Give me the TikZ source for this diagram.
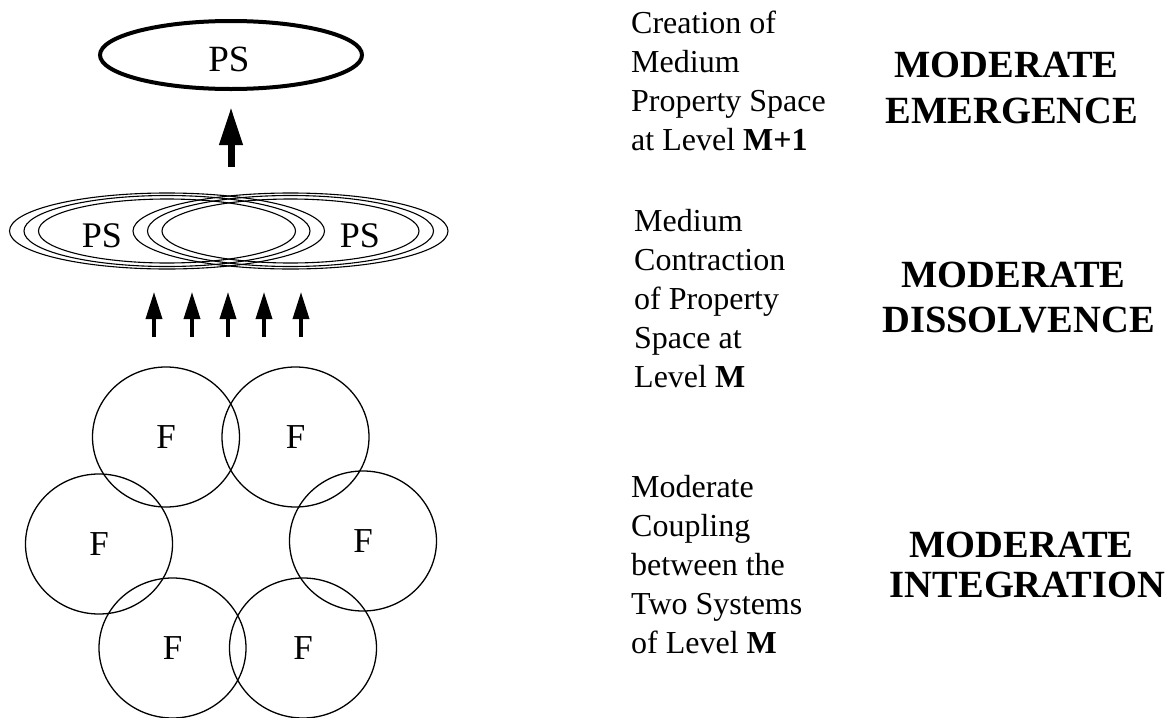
\documentclass[tikz,border=0pt]{standalone}
\usepackage{fontspec}
\setmainfont{Liberation Serif}
\usetikzlibrary{arrows.meta,shapes.geometric}

\begin{document}
\begin{tikzpicture}[x=1pt,y=-1pt,
  psbig/.style={draw, ellipse, line width=4pt, minimum width=262pt, minimum height=68pt, inner sep=0pt},
  fring/.style={draw, ellipse, line width=1.3pt, minimum width=147pt, minimum height=140pt, inner sep=0pt,
    font=\fontsize{35}{40}\selectfont},
  ring/.style={line width=1.1pt},
  lbl/.style={inner sep=0pt, font=\fontsize{36}{40}\selectfont},
  bigarr/.style={line width=7pt, -{Triangle[length=38pt, width=22pt]}},
  smallarr/.style={line width=3.5pt, -{Triangle[length=27pt, width=16pt]}},
  txt/.style={anchor=base west, inner sep=0pt, font=\fontsize{32}{39}\selectfont},
  head/.style={anchor=base, inner sep=0pt, font=\fontsize{38.5}{45}\selectfont\bfseries}]

\useasboundingbox (0,0) rectangle (1171,718);
\clip (0,0) rectangle (1171,718);

% level M+1: property space
\node[psbig] (ps3) at (231,55) {};
\node[lbl, font=\fontsize{37}{40}\selectfont] (ps3t) at (229,59) {PS};

% level M: two contracting property spaces
\foreach \rx/\ry in {157.5/38, 143/35.5, 128.5/32}{
  \draw[ring] (167,231) ellipse [x radius=\rx, y radius=\ry];
  \draw[ring] (290.5,231) ellipse [x radius=\rx, y radius=\ry];
}
\node[lbl] (ps1) at (102,236) {PS};
\node[lbl] (ps2) at (360,236) {PS};

% emergence arrow
\coordinate (up0) at (231,167);
\draw[bigarr, shorten >=16pt] (up0) -- (ps3.south);

% dissolvence arrows
\foreach \x [count=\i] in {154,192,228,264,301}{
  \coordinate (s\i) at (\x,337);
  \coordinate (t\i) at (\x,292);
  \draw[smallarr] (s\i) -- (t\i);
}

% coupled systems
\node[fring] (f1) at (166,437) {F};
\node[fring] (f2) at (295.5,437) {F};
\node[fring] (f3) at (99,544) {F};
\node[fring] (f4) at (363,541) {F};
\node[fring] (f5) at (172.5,648) {F};
\node[fring] (f6) at (303,648) {F};

% descriptions
\foreach \t [count=\i] in {{Creation of},{Medium},{Property Space},{at Level \textbf{M+1}}}
  \node[txt] (da\i) at (631,{33+39*(\i-1)}) {\t};
\foreach \t [count=\i] in {{Medium},{Contraction},{of Property},{Space at},{Level \textbf{M}}}
  \node[txt] (db\i) at (634,{231+39*(\i-1)}) {\t};
\foreach \t [count=\i] in {{Moderate},{Coupling},{between the},{Two Systems},{of Level \textbf{M}}}
  \node[txt] (dc\i) at (631,{497+39*(\i-1)}) {\t};

% headings
\node[head] (ha1) at (1006.5,77) {MODERATE};
\node[head] (ha2) at (1012,123) {EMERGENCE};
\node[head] (hb1) at (1013.5,287) {MODERATE};
\node[head] (hb2) at (1018.5,332) {DISSOLVENCE};
\node[head] (hc1) at (1021.5,557) {MODERATE};
\node[head] (hc2) at (1027.5,597) {INTEGRATION};
\end{tikzpicture}
\end{document}
